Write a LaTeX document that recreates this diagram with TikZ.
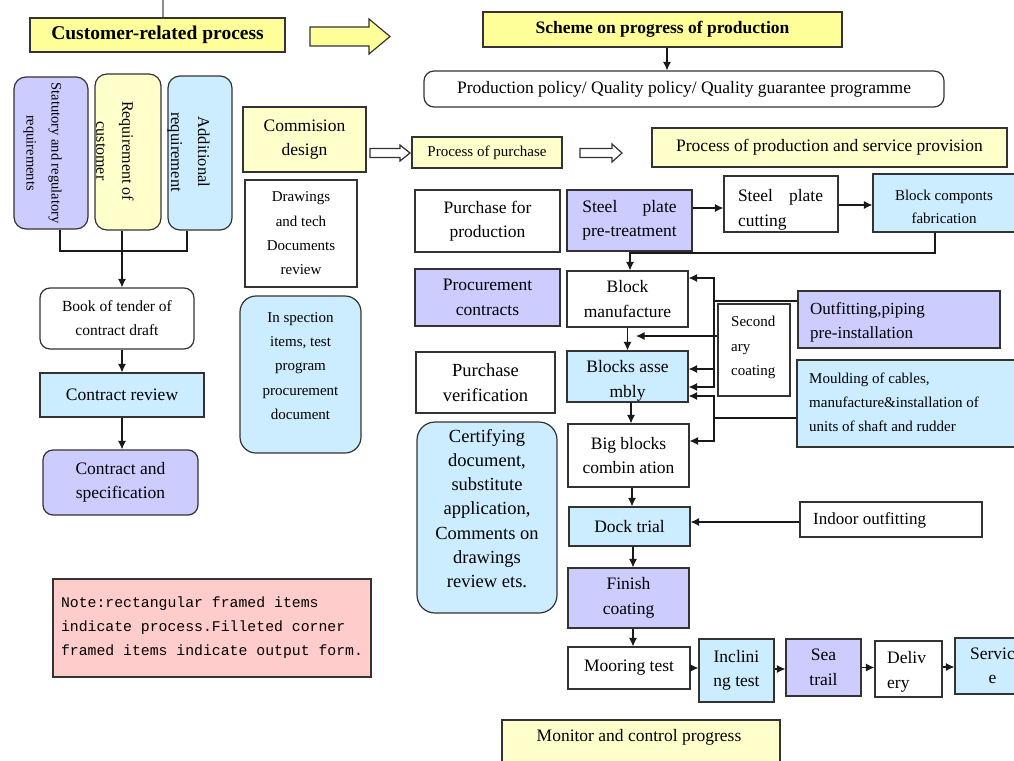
\documentclass[tikz,border=0pt]{standalone}
\usepackage{fontspec}
\setmainfont{Liberation Serif}
\newfontfamily\notefont{Liberation Mono}
\usetikzlibrary{arrows.meta}

\definecolor{ybright}{HTML}{FFFF99}
\definecolor{ypale}{HTML}{FFFFCC}
\definecolor{lav}{HTML}{CCCCFF}
\definecolor{sky}{HTML}{CCECFF}
\definecolor{rose}{HTML}{FFCCCC}
\definecolor{edge}{HTML}{333333}

\newcommand\stdfont{\fontsize{17.5}{24.5}\selectfont}
\newcommand\smallfont{\fontsize{15}{24.4}\selectfont}
% stretch the spaces of #2 so that it is as wide as #1
\newcommand\spreadto[2]{\setbox0=\hbox{#1}\makebox[\wd0][s]{#2}}

\tikzset{
  wh/.style 2 args={minimum width=#1pt, minimum height=#2pt},
  box/.style={draw=edge, line width=1.2pt, inner sep=0pt, fill=white,
              font=\stdfont, align=center},
  rbox/.style={box, rounded corners=10pt},
  lbl/.style={inner sep=0pt, font=\stdfont, align=center},
  arr/.style={draw=black!90, line width=1.1pt, -{Latex[length=8.5pt,width=8pt]}},
  link/.style={draw=black!90, line width=1.1pt},
  hollow/.style={draw=edge, line width=1.2pt, line join=miter},
}

\begin{document}
\begin{tikzpicture}[x=1pt,y=-1pt]
\useasboundingbox (0,0) rectangle (1014,760);
\clip (0,0) rectangle (1014,760);
\fill[white] (0,0) rectangle (1014,760);

% ---------- headers ----------
\node[box, fill=ybright, wh={255}{34}, font=\bfseries\fontsize{19.5}{22}\selectfont]
  (cust) at (157.5,35) {Customer-related process};
\coordinate (topmark) at (163,0);
\draw[link, draw=black!45] (topmark) -- (topmark |- cust.north);

% big outlined arrow towards the production scheme
\draw[hollow, fill=ybright] (310,27) -- (369,27) -- (369,19) -- (390,36.5)
  -- (369,54) -- (369,46) -- (310,46) -- cycle;

\node[box, fill=ybright, wh={359}{35}, font=\bfseries\fontsize{17.5}{20}\selectfont]
  (scheme) at (662.5,29.5) {Scheme on progress of production};
\node[rbox, wh={520}{36}] (policy) at (684,89)
  {Production policy/ Quality policy/ Quality guarantee programme};
\draw[arr] ([xshift=4.5pt]scheme.south) -- ([xshift=4.5pt]scheme.south |- policy.north);

% ---------- customer-related process ----------
\node[rbox, fill=lav, wh={74}{152}, rounded corners=12pt] (stat) at (51,153) {};
\node[lbl, rotate=-90, font=\fontsize{14.5}{25}\selectfont] (stat-t) at (42.5,153)
  {Statutory and regulatory\\requirements};
\node[rbox, fill=ypale, wh={66}{156}, rounded corners=12pt] (custreq) at (128,152) {};
\node[lbl, rotate=-90, font=\fontsize{16}{26}\selectfont] (custreq-t) at (115,151)
  {Requirement of\\customer};
\node[rbox, fill=sky, wh={64}{154}, rounded corners=12pt] (addreq) at (200,153) {};
\node[lbl, rotate=-90, font=\fontsize{16.5}{27}\selectfont] (addreq-t) at (188.5,152)
  {Additional\\requirement};

\coordinate (join) at (122,251);
\draw[link] ([xshift=9pt]stat.south) |- (join);
\draw[link] ([xshift=-13pt]addreq.south) |- (join);

\node[rbox, wh={154}{61}, font=\fontsize{15.5}{24}\selectfont] (book) at (117,318.5)
  {Book of tender of\\contract draft};
\draw[arr] ([xshift=-6pt]custreq.south) -- ([xshift=5pt]book.north);

\node[box, fill=sky, wh={164}{44}] (review) at (122,395) {Contract review};
\draw[arr] (book.south -| review.north) -- (review.north);

\node[rbox, fill=lav, wh={155}{65}] (spec) at (120.5,482.5) {Contract and\\specification};
\draw[arr] (review.south) -- (review.south |- spec.north);

\node[box, fill=rose, wh={318}{98}, align=left,
      font=\notefont\fontsize{14.8}{24}\selectfont] (note) at (212,628)
  {Note:rectangular framed items\\indicate process.Filleted corner\\framed items indicate output form.};

% ---------- design and purchase ----------
\node[box, fill=ypale, wh={123}{65}] (comm) at (304.5,139.5) {Commision\\design};
\node[box, wh={112}{107}, font=\smallfont] (drw) at (301,233.5)
  {Drawings\\and tech\\Documents\\review};
\node[rbox, fill=sky, wh={121}{157}, rounded corners=16pt] (insp) at (300.5,374.5) {};
\node[lbl, font=\smallfont] (insp-t) at (300.5,366)
  {In spection\\items, test\\program\\procurement\\document};

\draw[hollow, fill=white] (370,148.5) -- (400,148.5) -- (400,145) -- (410,153)
  -- (400,161) -- (400,157.5) -- (370,157.5) -- cycle;
\node[box, fill=ypale, wh={150}{31}, font=\fontsize{15}{18}\selectfont] (purch)
  at (487,152.5) {Process of purchase};
\draw[hollow, fill=white] (580,148.5) -- (612,148.5) -- (612,144) -- (622,153)
  -- (612,162) -- (612,157.5) -- (580,157.5) -- cycle;
\node[box, fill=ypale, wh={355}{39}] (prodproc) at (829.5,147.5)
  {Process of production and service provision};

\node[box, wh={145}{62}] (pfp) at (487.5,221) {Purchase for\\production};
\node[box, fill=lav, wh={145}{57}] (procc) at (487.5,297.5) {Procurement\\contracts};
\node[box, wh={139}{61}, font=\fontsize{18.5}{24.5}\selectfont] (pver) at (485.5,382.5)
  {Purchase\\verification};
\node[rbox, fill=sky, wh={140}{191}, rounded corners=18pt] (cert) at (487,517.5) {};
\node[lbl, font=\fontsize{18.5}{24.2}\selectfont] (cert-t) at (487,508.5)
  {Certifying\\document,\\substitute\\application,\\Comments on\\drawings\\review ets.};

% ---------- production flow ----------
\node[box, fill=lav, wh={125}{61}] (sppt) at (629.5,220.5)
  {\spreadto{pre-treatment}{Steel plate}\\pre-treatment};
\node[box, wh={114}{56}] (spc) at (781,204) {};
\node[lbl, align=left] (spc-t) at (780.5,210) {\makebox[85pt][s]{Steel plate}\\cutting};
\node[box, fill=sky, wh={147}{58}] (bcf) at (946.5,203) {};
\node[lbl, font=\fontsize{15}{23}\selectfont] (bcf-t) at (944,206.5)
  {Block componts\\fabrication};

\draw[arr] ([yshift=12.5pt]sppt.east) -- ([yshift=12.5pt]sppt.east -| spc.west);
\draw[arr] ([yshift=-1pt]spc.east) -- ([yshift=-1pt]spc.east -| bcf.west);

\node[box, wh={121}{56}] (bman) at (627.5,299) {Block\\manufacture};
\coordinate (ret) at (630,253);
\draw[arr] ([xshift=-11.5pt]bcf.south) |- (ret) -- (ret |- bman.north);

\node[box, fill=sky, wh={121}{51}] (bass) at (627.5,376.5) {};
\node[lbl] (bass-t) at (627.5,381) {Blocks asse\\mbly};
\draw[arr] (bman.south) -- (bass.north);

\node[box, wh={121}{63}] (bbig) at (628.5,455.5) {Big blocks\\combin ation};
\draw[arr] ([xshift=3.5pt]bass.south) -- ([xshift=3.5pt]bass.south |- bbig.north);

\node[box, fill=sky, wh={121}{39}] (dock) at (629.5,526.5) {Dock trial};
\draw[arr] ([xshift=3.5pt]bbig.south) -- ([xshift=3.5pt]bbig.south |- dock.north);

\node[box, fill=lav, wh={121}{60}] (fin) at (628.5,598) {Finish\\coating};
\draw[arr] ([xshift=3.5pt]dock.south) -- ([xshift=3.5pt]dock.south |- fin.north);

\node[box, wh={122}{42}] (moor) at (629,668) {Mooring test};
\draw[arr] ([xshift=4.5pt]fin.south) -- ([xshift=4.5pt]fin.south |- moor.north);

\node[box, fill=sky, wh={75}{63}] (incl) at (736.5,670.5) {Inclini\\ng test};
\node[box, fill=lav, wh={75}{57}] (sea) at (823.5,667.5) {Sea\\trail};
\node[box, wh={67}{56}] (deliv) at (908.5,669) {};
\node[lbl, align=left, anchor=west] (deliv-t) at (887,672) {Deliv\\ery};
\node[box, fill=sky, wh={75}{56}] (serv) at (992.5,666) {Servic\\e};

\draw[arr] (moor.east) -- (moor.east -| incl.west);
\draw[arr] ([yshift=1.5pt]incl.east) -- ([yshift=1.5pt]incl.east -| sea.west);
\draw[arr] (sea.east) -- (sea.east -| deliv.west);
\draw[arr] ([yshift=2pt]deliv.east) -- ([yshift=2pt]deliv.east -| serv.west);

% ---------- side inputs ----------
\node[box, wh={72}{92}] (sec) at (754,350) {};
\node[lbl, align=left, anchor=west, font=\smallfont] (sec-t) at (731,347.5)
  {Second\\ary\\coating};
\node[box, fill=lav, wh={202}{57}] (outf) at (899,319.5) {};
\node[lbl, align=left, anchor=west, font=\fontsize{17}{24}\selectfont] (outf-t) at (810,322)
  {Outfitting,piping\\pre-installation};
\node[box, fill=sky, wh={223}{87}] (mould) at (908.5,403.5) {};
\node[lbl, align=left, anchor=west, font=\fontsize{15}{24}\selectfont] (mould-t) at (809,402)
  {Moulding of cables,\\manufacture\&installation of\\units of shaft and rudder};
\node[box, wh={182}{35}] (indoor) at (891,519.5) {};
\node[lbl, anchor=west, font=\fontsize{17}{20}\selectfont] (indoor-t) at (813,520)
  {Indoor outfitting};

% outfitting feeds block manufacture and assembly
\coordinate (ob) at (714,301);
\draw[link] ([yshift=18.5pt]outf.west) -- (ob);
\draw[arr] (ob) |- ([yshift=21pt]bman.east);
\draw[arr] (ob) |- ([yshift=7.5pt]bass.east);
\draw[arr] (ob) |- ([yshift=-10.5pt]bass.east);

% secondary coating
\coordinate (sc) at (636,336);
\draw[arr] ([yshift=14pt]sec.west) -- (sc);

% cables, shaft and rudder feed assembly and big blocks
\coordinate (mb) at (714,418);
\draw[link] ([yshift=-14.5pt]mould.west) -- (mb);
\draw[arr] (mb) |- ([yshift=-19.5pt]bass.east);
\draw[arr] (mb) |- ([yshift=14.5pt]bbig.east);

% indoor outfitting feeds the dock trial
\draw[arr] ([yshift=-2.5pt]indoor.west) -- ([yshift=-2.5pt]indoor.west -| dock.east);

% ---------- monitoring ----------
\node[box, fill=ypale, wh={278}{46}] (monitor) at (641,743) {};
\node[lbl] (monitor-t) at (639,737) {Monitor and control progress};
\end{tikzpicture}
\end{document}
